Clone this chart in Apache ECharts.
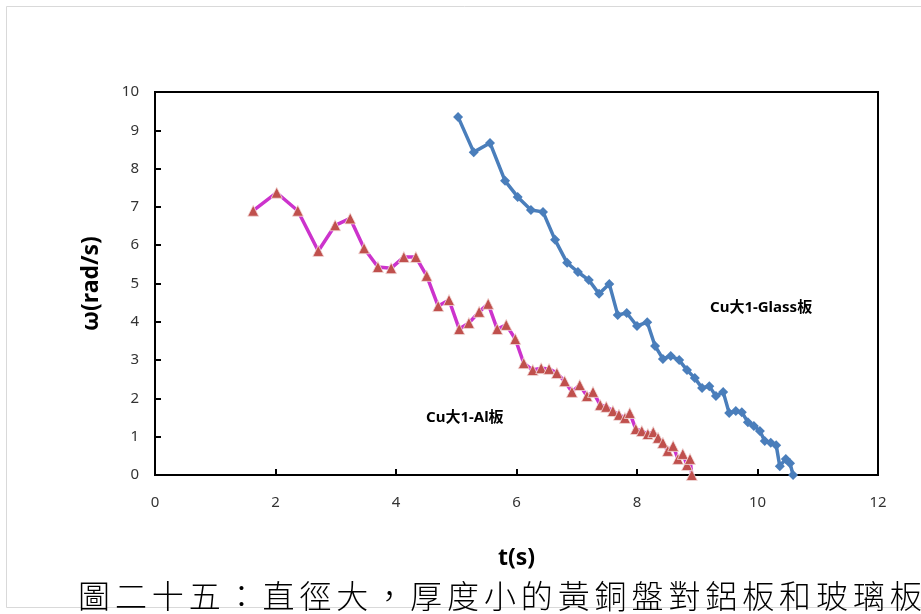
<!DOCTYPE html>
<html>
<head>
<meta charset="utf-8">
<script src="https://cdn.jsdelivr.net/npm/echarts@6/dist/echarts.min.js"></script>
<style>
html,body{margin:0;padding:0;background:#fff;}
#chart{width:921px;height:614px;}
</style>
</head>
<body>
<div id="chart"></div>
<script>
// Cu大1-Glass板 (t, ω)
const glassT = [5.03,5.29,5.56,5.81,6.02,6.24,6.44,6.64,6.84,7.02,7.20,7.37,7.54,7.68,7.83,8.00,8.17,8.30,8.43,8.56,8.70,8.83,8.96,9.08,9.20,9.31,9.43,9.53,9.64,9.74,9.84,9.94,10.04,10.12,10.22,10.31,10.37,10.47,10.54,10.59];
const glassW = [9.35,8.43,8.67,7.68,7.26,6.92,6.87,6.14,5.54,5.30,5.09,4.73,4.99,4.18,4.23,3.89,3.99,3.37,3.03,3.11,3.00,2.74,2.53,2.27,2.32,2.06,2.17,1.62,1.67,1.64,1.38,1.28,1.15,0.89,0.84,0.78,0.23,0.42,0.31,0.00];
// Cu大1-Al板 (t, ω)
const alT = [1.63,2.02,2.37,2.71,2.99,3.24,3.47,3.70,3.92,4.13,4.33,4.51,4.70,4.88,5.05,5.21,5.38,5.53,5.68,5.83,5.98,6.12,6.27,6.41,6.54,6.67,6.80,6.92,7.05,7.17,7.27,7.39,7.49,7.60,7.70,7.80,7.88,7.98,8.08,8.18,8.27,8.35,8.43,8.51,8.60,8.68,8.76,8.83,8.88,8.91];
const alW = [6.90,7.37,6.90,5.85,6.52,6.70,5.92,5.43,5.40,5.69,5.69,5.20,4.41,4.57,3.81,3.97,4.26,4.47,3.81,3.92,3.55,2.92,2.74,2.79,2.77,2.66,2.45,2.17,2.35,2.06,2.17,1.83,1.78,1.67,1.57,1.49,1.62,1.20,1.15,1.07,1.12,0.97,0.84,0.63,0.76,0.42,0.55,0.26,0.42,0.00];

const xTicks = {min:0, max:12, interval:2};
const yTicks = {min:0, max:10, interval:1};
const seriesNames = ['Cu大1-Glass板','Cu大1-Al板'];
const caption = '圖二十五：直徑大，厚度小的黃銅盤對鋁板和玻璃板';

const zip = (a,b) => a.map((v,i)=>[v,b[i]]);

const chart = echarts.init(document.getElementById('chart'));
const fontLat = 'Noto Sans, Liberation Sans, sans-serif';

const capChars = caption.split('').map((c,i)=>({
  type:'text', x: 78 + i*36.9, y: 580,
  style:{text:c, font:'300 32px "Noto Sans CJK TC"', fill:'#000', textBaseline:'top', textAlign:'left'}
}));

chart.setOption({
  animation:false,
  backgroundColor:'#fff',
  grid:{left:155, top:92, right:43, bottom:139, show:true, borderColor:'#000', borderWidth:2, backgroundColor:'transparent'},
  xAxis:{
    type:'value', min:xTicks.min, max:xTicks.max, interval:xTicks.interval,
    name:'t(s)', nameLocation:'middle', nameGap:72,
    nameTextStyle:{fontFamily:fontLat, fontWeight:'bold', fontSize:23, color:'#000'},
    axisLine:{show:true, onZero:false, lineStyle:{color:'#000', width:2}},
    axisTick:{show:true, inside:true, length:6, lineStyle:{color:'#000', width:2}},
    axisLabel:{fontFamily:fontLat, fontSize:15, color:'#333', margin:20},
    splitLine:{show:false}
  },
  yAxis:{
    type:'value', min:yTicks.min, max:yTicks.max, interval:yTicks.interval,
    name:'ω(rad/s)', nameLocation:'middle', nameGap:52, nameRotate:90,
    nameTextStyle:{fontFamily:fontLat, fontWeight:'bold', fontSize:23, color:'#000'},
    axisLine:{show:true, onZero:false, lineStyle:{color:'#000', width:2}},
    axisTick:{show:true, inside:true, length:6, lineStyle:{color:'#000', width:2}},
    axisLabel:{fontFamily:fontLat, fontSize:15, color:'#333', margin:16},
    splitLine:{show:false}
  },
  series:[
    {
      name:seriesNames[0], type:'line', data:zip(glassT, glassW),
      symbol:'diamond', symbolSize:10,
      lineStyle:{color:'#4A7EBB', width:3.5},
      itemStyle:{color:'#4A7EBB'},
      z:2
    },
    {
      name:seriesNames[1], type:'line', data:zip(alT, alW),
      symbol:'triangle', symbolSize:11,
      lineStyle:{color:'#CC33CC', width:3.5},
      itemStyle:{color:'#C0504D', borderColor:'#F2DCDB', borderWidth:0.8},
      z:3
    }
  ],
  graphic:[
    {type:'rect', shape:{x:6.5, y:6.5, width:940, height:601}, style:{fill:'none', stroke:'#D9D9D9', lineWidth:1}, z:-1},
    {type:'text', x:710, y:300, style:{text:seriesNames[0], font:'bold 15px "Noto Sans", "Noto Sans CJK TC", sans-serif', fill:'#000', textBaseline:'top'}},
    {type:'text', x:426, y:410, style:{text:seriesNames[1], font:'bold 15px "Noto Sans", "Noto Sans CJK TC", sans-serif', fill:'#000', textBaseline:'top'}}
  ].concat(capChars)
});
</script>
</body>
</html>
